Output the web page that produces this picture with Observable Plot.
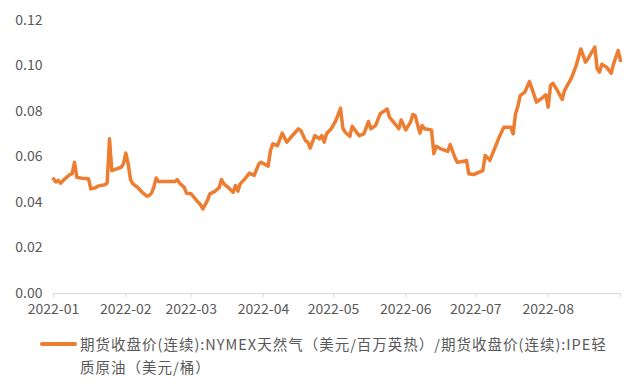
<!DOCTYPE html>
<html>
<head>
<meta charset="utf-8">
<script src="https://cdn.jsdelivr.net/npm/d3@7"></script>
<script src="https://cdn.jsdelivr.net/npm/@observablehq/plot@0.6"></script>
<style>
  html, body { margin: 0; padding: 0; background: #fff; }
  body { width: 640px; height: 384px; overflow: hidden; font-family: "Noto Sans CJK SC", "Noto Sans", sans-serif; }
  #legend { display: flex; align-items: flex-start; margin-top: 7px; padding-left: 40px; }
  #legend .sw { flex: 0 0 37px; height: 4px; border-radius: 2px; background: #ED7D31; margin-top: 10px; margin-right: 3px; }
  #legend .tx { width: 535px; font-size: 14.5px; letter-spacing: 1px; line-height: 23px; color: #595959; }
</style>
</head>
<body>
<div id="chart"></div>
<div id="legend"><div class="sw"></div><div class="tx" id="legendText"></div></div>
<script>
const seriesName = "期货收盘价(连续):NYMEX天然气（美元/百万英热）/期货收盘价(连续):IPE轻质原油（美元/桶）";
const dates = [
  "2022-01-01","2022-01-02","2022-01-03","2022-01-04","2022-01-06","2022-01-08","2022-01-09","2022-01-10","2022-01-11","2022-01-13",
  "2022-01-16","2022-01-17","2022-01-19","2022-01-20","2022-01-23","2022-01-24","2022-01-25","2022-01-26","2022-01-28","2022-01-30",
  "2022-01-31","2022-02-01","2022-02-02","2022-02-03","2022-02-04","2022-02-06","2022-02-08","2022-02-10","2022-02-11","2022-02-12",
  "2022-02-13","2022-02-14","2022-02-15","2022-02-22","2022-02-23","2022-02-24","2022-02-26","2022-02-27","2022-03-01","2022-03-02",
  "2022-03-04","2022-03-05","2022-03-06","2022-03-08","2022-03-09","2022-03-11","2022-03-13","2022-03-14","2022-03-15","2022-03-17",
  "2022-03-19","2022-03-20","2022-03-21","2022-03-22","2022-03-24","2022-03-26","2022-03-28","2022-03-30","2022-03-31","2022-04-03",
  "2022-04-04","2022-04-05","2022-04-07","2022-04-09","2022-04-11","2022-04-13","2022-04-16","2022-04-17","2022-04-19","2022-04-20",
  "2022-04-21","2022-04-23","2022-04-25","2022-04-26","2022-04-27","2022-04-28","2022-04-30","2022-05-02","2022-05-04","2022-05-05",
  "2022-05-06","2022-05-08","2022-05-09","2022-05-10","2022-05-12","2022-05-14","2022-05-16","2022-05-17","2022-05-19","2022-05-21",
  "2022-05-23","2022-05-24","2022-05-25","2022-05-27","2022-05-29","2022-05-30","2022-06-01","2022-06-03","2022-06-04","2022-06-05",
  "2022-06-07","2022-06-08","2022-06-09","2022-06-12","2022-06-13","2022-06-14","2022-06-16","2022-06-19","2022-06-20","2022-06-22",
  "2022-06-23","2022-06-26","2022-06-27","2022-06-28","2022-06-30","2022-07-04","2022-07-05","2022-07-07","2022-07-09","2022-07-11",
  "2022-07-13","2022-07-16","2022-07-17","2022-07-18","2022-07-19","2022-07-20","2022-07-22","2022-07-24","2022-07-27","2022-07-29",
  "2022-07-31","2022-08-01","2022-08-02","2022-08-03","2022-08-05","2022-08-07","2022-08-08","2022-08-11","2022-08-13","2022-08-15",
  "2022-08-17","2022-08-18","2022-08-21","2022-08-22","2022-08-23","2022-08-24","2022-08-26","2022-08-28","2022-08-29","2022-08-31",
  "2022-09-01"
];
const values = [
  0.0504,0.0490,0.0497,0.0485,0.0505,0.0523,0.0527,0.0577,0.0511,0.0507,
  0.0504,0.0460,0.0465,0.0472,0.0478,0.0485,0.0680,0.0540,0.0548,0.0555,
  0.0570,0.0617,0.0570,0.0501,0.0482,0.0467,0.0445,0.0428,0.0431,0.0441,
  0.0467,0.0508,0.0492,0.0492,0.0501,0.0485,0.0467,0.0441,0.0438,0.0426,
  0.0401,0.0391,0.0372,0.0409,0.0438,0.0448,0.0465,0.0501,0.0482,0.0465,
  0.0445,0.0475,0.0450,0.0482,0.0504,0.0529,0.0519,0.0570,0.0577,0.0560,
  0.0629,0.0658,0.0650,0.0705,0.0665,0.0690,0.0724,0.0716,0.0672,0.0665,
  0.0639,0.0694,0.0680,0.0694,0.0665,0.0702,0.0724,0.0760,0.0814,0.0727,
  0.0709,0.0691,0.0735,0.0721,0.0694,0.0702,0.0756,0.0724,0.0738,0.0790,
  0.0804,0.0811,0.0775,0.0750,0.0724,0.0763,0.0719,0.0753,0.0787,0.0782,
  0.0705,0.0738,0.0724,0.0719,0.0614,0.0647,0.0636,0.0625,0.0655,0.0599,
  0.0577,0.0581,0.0585,0.0526,0.0523,0.0540,0.0607,0.0585,0.0636,0.0687,
  0.0731,0.0731,0.0702,0.0790,0.0822,0.0870,0.0885,0.0932,0.0841,0.0856,
  0.0873,0.0819,0.0914,0.0924,0.0892,0.0853,0.0892,0.0948,0.1002,0.1075,
  0.1017,0.1031,0.1083,0.0988,0.0973,0.1008,0.0995,0.0968,0.1008,0.1068,
  0.1024
];
const yTicks = [0, 0.02, 0.04, 0.06, 0.08, 0.10, 0.12];
const xTickLabels = ["2022-01","2022-02","2022-03","2022-04","2022-05","2022-06","2022-07","2022-08",""];
const xTickDates = ["2022-01-01","2022-02-01","2022-03-01","2022-04-01","2022-05-01","2022-06-01","2022-07-01","2022-08-01","2022-09-01"];

const data = dates.map((d, i) => ({date: new Date(d + "T00:00:00Z"), value: values[i]}));
const xt = xTickDates.map(d => new Date(d + "T00:00:00Z"));
const labelOf = new Map(xt.map((d, i) => [+d, xTickLabels[i]]));

const chart = Plot.plot({
  width: 640,
  height: 325,
  marginTop: 20,
  marginBottom: 32,
  marginLeft: 53,
  marginRight: 20,
  style: {fontFamily: '"Noto Sans CJK SC", "Noto Sans", sans-serif', fontSize: "14px", color: "#595959", background: "#fff"},
  x: {type: "utc", domain: [xt[0], xt[xt.length - 1]]},
  y: {domain: [0, 0.12]},
  marks: [
    Plot.axisY({ticks: yTicks, tickSize: 0, tickPadding: 11, tickFormat: d3.format(".2f"), label: null, fontSize: 14, fill: "#595959"}),
    Plot.ruleY([0], {stroke: "#d9d9d9", strokeWidth: 1}),
    Plot.axisX({ticks: xt, tickSize: 4, tickPadding: 7, stroke: "#d9d9d9", tickFormat: d => labelOf.get(+d), label: null, fontSize: 14, fill: "#595959"}),
    Plot.lineY(data, {x: "date", y: "value", stroke: "#ED7D31", strokeWidth: 3.5, strokeLinejoin: "round", strokeLinecap: "round"})
  ]
});
document.getElementById("chart").appendChild(chart);
document.getElementById("legendText").textContent = seriesName;
</script>
</body>
</html>
